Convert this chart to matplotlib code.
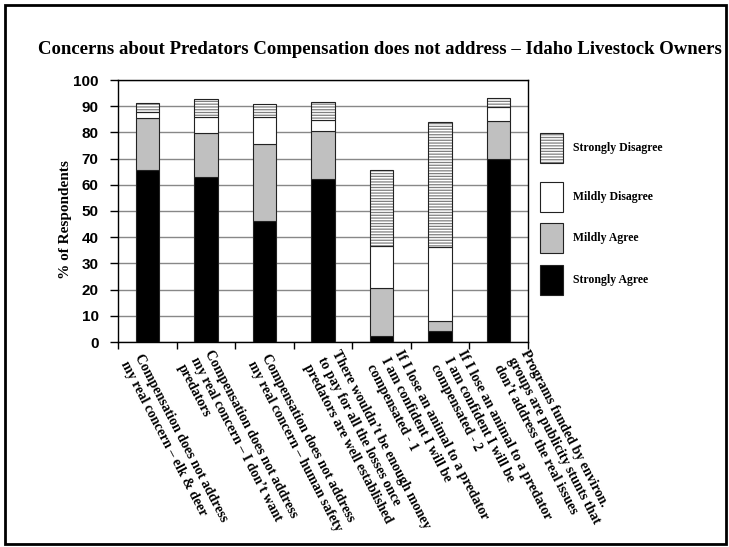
import numpy as np
import matplotlib
matplotlib.use('Agg')
import matplotlib.pyplot as plt
from matplotlib.patches import Rectangle
from matplotlib.transforms import blended_transform_factory

# survey statements (x categories)
statements = [
    'Compensation does not address\nmy real concern \u2013 elk & deer',
    'Compensation does not address\nmy real concern \u2013 I don\u2019t want\npredators',
    'Compensation does not address\nmy real concern \u2013 human safety',
    'There wouldn\u2019t be enough money\nto pay for all the losses once\npredators are well established',
    'If I lose an animal to a predator\nI am confident I will be\ncompensated - 1',
    'If I lose an animal to a predator\nI am confident I will be\ncompensated - 2',
    'Programs funded by environ.\ngroups are publicity stunts that\ndon\u2019t address the real issues',
]

# % of respondents per answer
strongly_agree = [65.5, 63.1, 46.2, 62.4, 2.2, 4.2, 69.9]
mildly_agree = [20.0, 16.5, 29.4, 18.2, 18.4, 4.0, 14.4]
mildly_disagree = [2.3, 6.3, 10.2, 4.0, 16.0, 27.9, 5.3]
strongly_disagree = [3.6, 6.7, 5.0, 7.0, 29.0, 47.7, 3.5]

W, H = 729, 547
serif = ['Liberation Serif', 'DejaVu Serif']
sans = ['Liberation Sans', 'DejaVu Sans']

fig = plt.figure(figsize=(W / 100, H / 100), dpi=100)
ax = fig.add_axes([118 / W, 1 - 342 / H, 410 / W, 262 / H])

x = np.arange(len(statements))
bw = 0.4
edge = '#222222'

sa = np.array(strongly_agree)
ma = np.array(mildly_agree)
md = np.array(mildly_disagree)
sd = np.array(strongly_disagree)

ax.bar(x, sa, bw, color='black', edgecolor=edge, linewidth=0.8, zorder=3)
ax.bar(x, ma, bw, bottom=sa, color='#c0c0c0', edgecolor=edge, linewidth=0.8, zorder=3)
ax.bar(x, md, bw, bottom=sa + ma, color='white', edgecolor=edge, linewidth=0.8, zorder=3)
plt.rcParams['hatch.linewidth'] = 0.9
ax.bar(x, sd, bw, bottom=sa + ma + md, color='white', edgecolor='#808080',
       hatch='------', linewidth=0, zorder=3)
ax.bar(x, sd, bw, bottom=sa + ma + md, fill=False, edgecolor=edge, linewidth=0.8, zorder=4)

ax.set_xlim(-0.5, len(statements) - 0.5)
ax.set_ylim(0, 100)
ax.set_yticks(np.arange(0, 101, 10))
ax.set_xticks(np.arange(-0.5, len(statements), 1.0))
ax.set_xticklabels([])
ax.tick_params(axis='x', length=5, width=1, color='black', direction='out')
ax.tick_params(axis='y', length=6, width=1, color='black', direction='out', pad=8)
for lab in ax.get_yticklabels():
    lab.set_fontfamily(sans)
    lab.set_fontweight('bold')
    lab.set_fontsize(11)
ax.yaxis.grid(True, color='#888888', linewidth=1.0, zorder=0)
ax.set_axisbelow(True)
for s in ax.spines.values():
    s.set_color('black')
    s.set_linewidth(1.0)

# rotated category labels
trans = blended_transform_factory(ax.transData, ax.transAxes)
for i, txt in enumerate(statements):
    ax.text(i * 1.08 - 0.28, -0.062, txt, transform=trans, rotation=-62.5,
            rotation_mode='anchor', ha='left', va='center', multialignment='left',
            fontsize=10, fontweight='bold', family=serif, linespacing=1.25)

fig.text(380 / W, 1 - 49 / H,
         'Concerns about Predators Compensation does not address \u2013 Idaho Livestock Owners',
         ha='center', va='center', fontsize=13.5, fontweight='bold', family=serif)
fig.text(65 / W, 1 - 220 / H, '% of Respondents', rotation=90, ha='center', va='center',
         fontsize=11, fontweight='bold', family=serif)

# legend
legend_items = [('Strongly Disagree', 148), ('Mildly Disagree', 197),
                ('Mildly Agree', 238), ('Strongly Agree', 280)]
styles = [dict(facecolor='white', edgecolor='#808080', hatch='------', linewidth=0),
          dict(facecolor='white', edgecolor=edge, linewidth=0.8),
          dict(facecolor='#c0c0c0', edgecolor=edge, linewidth=0.8),
          dict(facecolor='black', edgecolor=edge, linewidth=0.8)]
for (name, yc), st in zip(legend_items, styles):
    fig.add_artist(Rectangle((540 / W, 1 - (yc + 15) / H), 23 / W, 30 / H,
                             transform=fig.transFigure, **st))
    if st.get('hatch'):
        fig.add_artist(Rectangle((540 / W, 1 - (yc + 15) / H), 23 / W, 30 / H,
                                 transform=fig.transFigure, fill=False,
                                 edgecolor=edge, linewidth=0.8))
    fig.text(573 / W, 1 - yc / H, name, ha='left', va='center',
             fontsize=8.5, fontweight='bold', family=serif)

# outer border
fig.add_artist(Rectangle((5 / W, 1 - 544 / H), 721 / W, 539 / H, transform=fig.transFigure,
                         fill=False, edgecolor='black', linewidth=2.0))

fig.savefig('out.png', dpi=100)
